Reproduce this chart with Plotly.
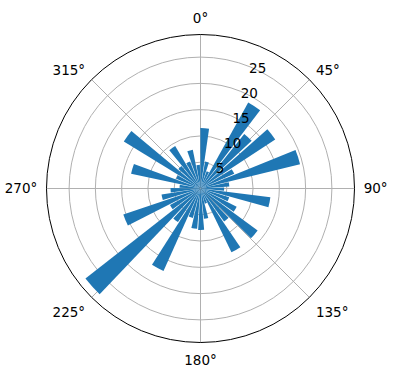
import plotly.graph_objects as go

# bar directions (degrees, clockwise from north) and lengths
directions = [4.0, 13.7, 23.5, 33.2, 42.9, 52.6, 62.4, 72.1, 81.8, 91.6,
              101.3, 111.0, 120.8, 130.5, 140.2, 150.0, 159.7, 169.4, 179.1, 188.9,
              198.6, 208.3, 218.0, 227.8, 237.5, 247.2, 257.0, 266.7, 276.4, 286.1,
              295.9, 305.6, 315.4, 325.0, 334.8, 344.6, 354.3]
values = [11.5, 5.2, 3.5, 18.7, 13.3, 17.0, 7.0, 19.5, 5.5, 4.5,
          13.4, 5.7, 7.7, 13.5, 7.7, 13.5, 3.0, 5.8, 7.9, 7.7,
          5.8, 17.2, 7.7, 27.8, 6.6, 15.5, 7.5, 5.7, 4.0, 13.5,
          5.0, 17.1, 5.6, 9.4, 5.5, 7.5, 4.5]
bar_width_deg = 8.3

angle_ticks = [0, 45, 90, 135, 180, 225, 270, 315]
angle_labels = ["0°", "45°", "90°", "135°", "180°", "225°", "270°", "315°"]
radial_ticks = [5, 10, 15, 20, 25]
radial_max = 29.3

fig = go.Figure(go.Barpolar(
    r=values,
    theta=directions,
    width=[bar_width_deg] * len(values),
    marker=dict(color="#1f77b4", line=dict(width=0)),
    hoverinfo="skip",
))

W, H = 396, 380
cx, cy, R = 200.5, 188.5, 154
fig.update_layout(
    width=W, height=H,
    margin=dict(l=0, r=0, t=0, b=0),
    paper_bgcolor="white",
    showlegend=False,
    font=dict(family="DejaVu Sans", size=13.5, color="black"),
    polar=dict(
        domain=dict(x=[(cx - R) / W, (cx + R) / W],
                    y=[1 - (cy + R) / H, 1 - (cy - R) / H]),
        bgcolor="white",
        bargap=0,
        angularaxis=dict(
            rotation=90, direction="clockwise",
            tickmode="array", tickvals=angle_ticks, ticktext=angle_labels,
            showline=True, linecolor="black", linewidth=1,
            showgrid=True, gridcolor="#b0b0b0", gridwidth=1,
            ticks="outside", ticklen=6, tickcolor="rgba(0,0,0,0)",
            layer="below traces",
        ),
        radialaxis=dict(
            range=[0, radial_max],
            tickmode="array", tickvals=radial_ticks,
            ticktext=[str(v) for v in radial_ticks],
            angle=71.5, tickangle=71.5,
            showline=False, ticks="",
            showgrid=True, gridcolor="#b0b0b0", gridwidth=1.1,
            layer="above traces",
        ),
    ),
)

fig.write_html("out.html")
